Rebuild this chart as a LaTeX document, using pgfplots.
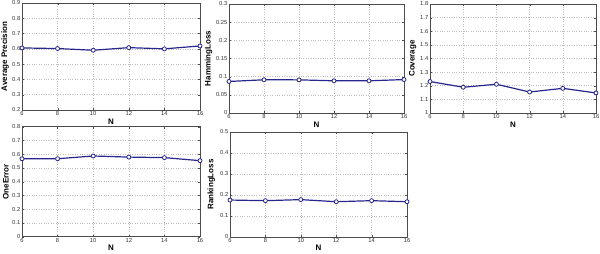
\documentclass[border=0pt]{standalone}
\usepackage{pgfplots}
\pgfplotsset{compat=1.18}
\usepackage{fontspec}
\setmainfont{Liberation Sans}
\definecolor{myblue}{RGB}{38,38,140}
\pgfplotsset{
  myplot/.style={draw=myblue, line width=1.2pt, mark=*, mark size=2pt, mark options={fill=white, draw=myblue, line width=0.8pt}},
  mstyle/.style={
    scale only axis,
    xmin=6, xmax=16, xtick={6,8,...,16},
    grid=major,
    grid style={dotted, gray!50, line width=0.5pt},
    axis line style={black!70, line width=0.5pt},
    tick style={black!70},
    tick align=inside,
    major tick length=2pt,
    /pgf/number format/assume math mode=true,
    ticklabel style={font=\fontsize{5.8}{6}\selectfont, text=black!80},
    xticklabel style={inner sep=1.5pt},
    yticklabel style={inner sep=1.5pt},
    label style={font=\bfseries\fontsize{8}{9}\selectfont},
    xlabel=N,
    xlabel style={at={(axis description cs:0.5,0)}, anchor=center, yshift=-12pt},
  }
}
\begin{document}
\begin{tikzpicture}
\useasboundingbox (0,0) rectangle (600pt,254pt);
% Average Precision
\begin{axis}[mstyle, width=178pt, height=107pt, at={(22pt,144pt)}, anchor=south west,
  ymin=0.2, ymax=0.9, ytick={0.2,0.3,...,0.9},
  ylabel={Average Precision},
  ylabel style={at={(axis description cs:-0.0955,0.5)}, anchor=center}]
\addplot[myplot] coordinates {(6,0.606) (8,0.602) (10,0.591) (12,0.608) (14,0.600) (16,0.619)};
\end{axis}
% HammingLoss
\begin{axis}[mstyle, width=175pt, height=109pt, at={(229pt,141pt)}, anchor=south west,
  ymin=0, ymax=0.3, ytick={0,0.05,0.1,0.15,0.2,0.25,0.3},
  yticklabels={0,0.05,0.1,0.15,0.2,0.25,0.3},
  ylabel={HammingLoss},
  ylabel style={at={(axis description cs:-0.117,0.5)}, anchor=center}]
\addplot[myplot] coordinates {(6,0.0868) (8,0.0914) (10,0.0912) (12,0.0886) (14,0.0886) (16,0.0920)};
\end{axis}
% Coverage
\begin{axis}[mstyle, width=166pt, height=109pt, at={(430pt,141pt)}, anchor=south west,
  ymin=1, ymax=1.8, ytick={1,1.1,1.2,1.3,1.4,1.5,1.6,1.7,1.8},
  yticklabels={1,1.1,1.2,1.3,1.4,1.5,1.6,1.7,1.8},
  ylabel={Coverage},
  ylabel style={at={(axis description cs:-0.105,0.5)}, anchor=center}]
\addplot[myplot] coordinates {(6,1.231) (8,1.189) (10,1.211) (12,1.154) (14,1.181) (16,1.147)};
\end{axis}
% OneError
\begin{axis}[mstyle, width=178pt, height=110pt, at={(22pt,17.3pt)}, anchor=south west,
  ymin=0, ymax=0.8, ytick={0,0.1,...,0.8},
  yticklabels={0,0.1,0.2,0.3,0.4,0.5,0.6,0.7,0.8},
  ylabel={OneError},
  xlabel style={yshift=1pt},
  ylabel style={at={(axis description cs:-0.09,0.5)}, anchor=center}]
\addplot[myplot] coordinates {(6,0.567) (8,0.567) (10,0.587) (12,0.579) (14,0.575) (16,0.553)};
\end{axis}
% RankingLoss
\begin{axis}[mstyle, width=177pt, height=105pt, at={(230pt,17pt)}, anchor=south west,
  ymin=0, ymax=0.5, ytick={0,0.1,...,0.5},
  yticklabels={0,0.1,0.2,0.3,0.4,0.5},
  ylabel={RankingLoss},
  xlabel style={yshift=1pt},
  ylabel style={at={(axis description cs:-0.105,0.5)}, anchor=center}]
\addplot[myplot] coordinates {(6,0.176) (8,0.173) (10,0.178) (12,0.168) (14,0.173) (16,0.168)};
\end{axis}
\end{tikzpicture}
\end{document}
